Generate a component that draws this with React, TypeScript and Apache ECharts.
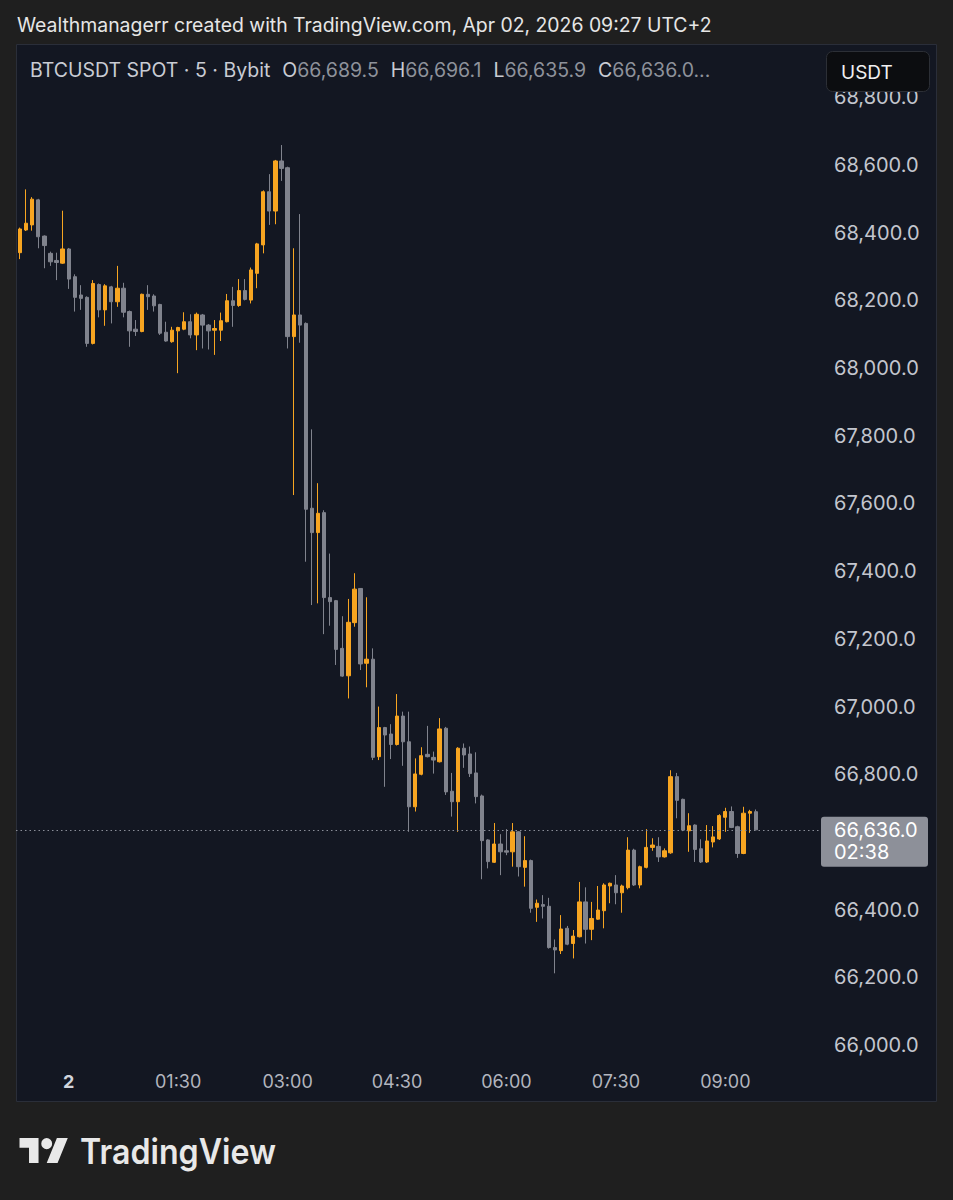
import React, { useEffect, useRef } from "react";
import * as echarts from "echarts";

// 5-minute slots, counted from 00:00 on Apr 02 (negative = Apr 01)
const slots = [
  -9, -8, -7, -6, -5, -4, -3, -2, -1, 0, 1, 2, 3, 4, 5, 6, 7, 8, 9, 10,
  11, 12, 13, 14, 15, 16, 17, 18, 19, 20, 21, 22, 23, 24, 25, 26, 27, 28, 29, 30,
  31, 32, 33, 34, 35, 36, 37, 38, 39, 40, 41, 42, 43, 44, 45, 46, 47, 48, 49, 50,
  51, 52, 53, 54, 55, 56, 57, 58, 59, 60, 61, 62, 63, 64, 65, 66, 67, 68, 69, 70,
  71, 72, 73, 74, 75, 76, 77, 78, 79, 80, 81, 82, 83, 84, 85, 86, 87, 88, 89, 90,
  91, 92, 93, 94, 95, 96, 97, 98, 99, 100, 101, 102, 103, 104, 105, 106, 107, 108, 109, 110,
  111, 112, 113,
];

const opens = [
  68350, 68341, 68408, 68423, 68497, 68390, 68339, 68318, 68310, 68352, 68270, 68216, 68209, 68073, 68247, 68172, 68240, 68196, 68236, 68167,
  68115, 68108, 68218, 68213, 68188, 68106, 68078, 68110, 68115, 68137, 68098, 68157, 68127, 68112, 68112, 68137, 68199, 68185, 68229, 68201,
  68280, 68364, 68521, 68464, 68612, 68592, 68093, 68157, 68132, 67586, 67514, 67573, 67322, 67313, 67172, 67091, 67248, 67349, 67128, 67140,
  66852, 66938, 66919, 66888, 66972, 66896, 66704, 66800, 66859, 66850, 66837, 66936, 66750, 66719, 66877, 66860, 66804, 66736, 66606, 66540,
  66594, 66574, 66571, 66630, 66525, 66545, 66407, 66415, 66410, 66288, 66279, 66345, 66300, 66320, 66423, 66342, 66372, 66397, 66470, 66473,
  66450, 66465, 66576, 66473, 66525, 66584, 66587, 66556, 66568, 66793, 66726, 66633, 66650, 66580, 66541, 66600, 66609, 66673, 66690, 66645,
  66566, 66685, 66689.5,
];

const highs = [
  68360, 68415, 68528, 68505, 68500, 68392, 68344, 68341, 68465, 68355, 68277, 68245, 68212, 68260, 68250, 68248, 68243, 68302, 68252, 68170,
  68142, 68220, 68245, 68218, 68190, 68137, 68122, 68122, 68165, 68159, 68164, 68160, 68130, 68142, 68164, 68219, 68240, 68263, 68263, 68297,
  68370, 68525, 68573, 68615, 68659, 68595, 68354, 68455, 68135, 67819, 67660, 67580, 67452, 67315, 67267, 67318, 67394, 67350, 67323, 67172,
  67000, 66940, 66948, 67037, 66985, 66985, 66847, 66880, 66943, 66867, 66966, 66940, 66804, 66880, 66891, 66882, 66865, 66740, 66608, 66656,
  66623, 66638, 66656, 66632, 66617, 66548, 66430, 66443, 66435, 66312, 66384, 66352, 66340, 66482, 66466, 66423, 66470, 66478, 66480, 66502,
  66474, 66614, 66580, 66530, 66638, 66611, 66614, 66581, 66812, 66804, 66728, 66685, 66652, 66608, 66650, 66647, 66682, 66701, 66705, 66648,
  66704, 66695, 66696.1,
];

const lows = [
  68270, 68322, 68405, 68406, 68354, 68295, 68302, 68260, 68308, 68234, 68167, 68172, 68063, 68070, 68150, 68125, 68132, 68181, 68150, 68063,
  68095, 68106, 68172, 68167, 68098, 68078, 68075, 67985, 68112, 68088, 68053, 68058, 68055, 68039, 68080, 68135, 68122, 68181, 68200, 68191,
  68236, 68339, 68423, 68425, 68553, 68058, 67625, 68075, 67428, 67300, 67305, 67214, 67239, 67123, 67088, 67024, 67236, 67108, 67057, 66842,
  66842, 66763, 66845, 66885, 66825, 66630, 66690, 66797, 66850, 66802, 66835, 66739, 66675, 66630, 66819, 66792, 66714, 66490, 66522, 66538,
  66502, 66561, 66527, 66498, 66468, 66391, 66364, 66374, 66285, 66212, 66269, 66295, 66256, 66318, 66300, 66310, 66370, 66345, 66419, 66416,
  66391, 66460, 66470, 66463, 66522, 66574, 66541, 66554, 66565, 66670, 66632, 66571, 66541, 66538, 66538, 66584, 66606, 66630, 66641, 66553,
  66564, 66627, 66635.9,
];

const closes = [
  68295, 68411, 68428, 68499, 68388, 68362, 68314, 68312, 68352, 68263, 68209, 68206, 68073, 68250, 68172, 68243, 68196, 68236, 68165, 68110,
  68108, 68218, 68211, 68184, 68103, 68080, 68112, 68120, 68137, 68098, 68159, 68127, 68110, 68117, 68140, 68199, 68185, 68229, 68203, 68290,
  68367, 68521, 68464, 68612, 68590, 68093, 68157, 68127, 67583, 67514, 67571, 67322, 67310, 67169, 67090, 67249, 67347, 67126, 67140, 66850,
  66938, 66916, 66888, 66972, 66896, 66704, 66801, 66855, 66852, 66842, 66934, 66748, 66719, 66877, 66857, 66802, 66734, 66604, 66542, 66594,
  66571, 66570, 66630, 66527, 66545, 66404, 66419, 66410, 66288, 66281, 66343, 66298, 66322, 66423, 66342, 66374, 66399, 66473, 66478, 66450,
  66470, 66576, 66473, 66527, 66584, 66591, 66556, 66574, 66793, 66723, 66635, 66648, 66578, 66541, 66603, 66615, 66678, 66690, 66643, 66566,
  66685, 66690, 66636.0,
];

const timeTicks = [0, 18, 36, 54, 72, 90, 108];
const timeTickLabels = ["2", "01:30", "03:00", "04:30", "06:00", "07:30", "09:00"];
// 66,600.0 sits under the last-price tag in the reference, so it is not listed
const priceTicks = [66000, 66200, 66400, 66800, 67000, 67200, 67400, 67600, 67800, 68000, 68200, 68400, 68600, 68800];

const headerText = "Wealthmanagerr created with TradingView.com, Apr 02, 2026 09:27 UTC+2";
const symbolText = "BTCUSDT SPOT · 5 · Bybit";
const currencyText = "USDT";
const countdownText = "02:38";
const brandText = "TradingView";

const UP = "#f7a521";
const DOWN = "#80838d";
const FONT = "Inter, 'Noto Sans', sans-serif";

const fmt = (v: number) =>
  v.toLocaleString("en-US", { minimumFractionDigits: 1, maximumFractionDigits: 1 });

const LOGO_D =
  "M14 22H7V11H0V4h14v18zM28 22h-8l7.5-18h8L28 22zM24 8a4 4 0 1 1 -8 0a4 4 0 1 1 8 0z";

export default function App() {
  const ref = useRef<HTMLDivElement>(null);

  useEffect(() => {
    if (!ref.current) return;
    echarts.graphic.registerShape("tvlogo", echarts.graphic.extendPath(LOGO_D, {}));
    const chart = echarts.init(ref.current, undefined, { renderer: "svg" });

    const data = slots.map((t, i) => [t, opens[i], closes[i], lows[i], highs[i]]);
    const last = slots.length - 1;
    const lastClose = closes[last];

    const GL = 16, GR = 820, GT = 44, GB = 1062;

    const baseGraphics: any[] = [
      {
        id: "panel", type: "rect", z: -10, silent: true,
        shape: { x: 16.5, y: 44.5, width: 920, height: 1057 },
        style: { fill: "#131722", stroke: "#2a2e39", lineWidth: 1 },
      },
      {
        id: "header", type: "text", x: 17, y: 25, silent: true,
        style: { text: headerText, fill: "#e6e6e6", font: `19.4px ${FONT}`, verticalAlign: "middle" },
      },
      {
        id: "legend", type: "text", x: 30, y: 70, silent: true,
        style: {
          text:
            `{a|${symbolText}}{k|O}{b|${fmt(opens[last])}}{k|H}{b|${fmt(highs[last])}}` +
            `{k|L}{b|${fmt(lows[last])}}{k|C}{b|${fmt(closes[last])}...}`,
          verticalAlign: "middle",
          rich: {
            a: { fill: "#c9ccd4", font: `19.5px ${FONT}` },
            k: { fill: "#c9ccd4", font: `19.5px ${FONT}`, padding: [0, 0, 0, 12] },
            b: { fill: "#8e929b", font: `19.5px ${FONT}` },
          },
        },
      },
      {
        id: "usdtBtn", type: "rect", z: 100, silent: true,
        shape: { x: 826.5, y: 51.5, width: 103, height: 40, r: 6 },
        style: { fill: "#0c0d10", stroke: "#2c2f36", lineWidth: 1 },
      },
      {
        id: "usdtTxt", type: "text", z: 101, x: 841, y: 72, silent: true,
        style: { text: currencyText, fill: "#f0f0f0", font: `19px ${FONT}`, verticalAlign: "middle" },
      },
      {
        id: "logo", type: "tvlogo", x: 19.5, y: 1132.6, scaleX: 1.36, scaleY: 1.38, silent: true,
        style: { fill: "#e8e8e8" },
      },
      {
        id: "brand", type: "text", x: 80, y: 1150.5, scaleX: 0.92, silent: true,
        style: { text: brandText, fill: "#e8e8e8", font: `600 35px ${FONT}`, verticalAlign: "middle" },
      },
    ];

    const option: any = {
      animation: false,
      backgroundColor: "#1f1f1f",
      grid: { left: GL, top: GT, width: GR - GL, height: GB - GT },
      xAxis: {
        type: "value",
        min: -8.67,
        max: 123.57,
        axisLine: { show: false },
        axisTick: { show: false },
        splitLine: { show: false },
        axisLabel: {
          customValues: timeTicks,
          margin: 10,
          color: "#b2b5be",
          fontFamily: FONT,
          fontSize: 18,
          formatter: (v: number) => {
            const i = timeTicks.indexOf(v);
            if (i < 0) return "";
            return i === 0 ? `{d|${timeTickLabels[i]}}` : timeTickLabels[i];
          },
          rich: { d: { fontWeight: "bold", color: "#d1d4dc", fontFamily: FONT, fontSize: 18 } },
        },
      },
      yAxis: {
        type: "value",
        position: "right",
        min: 65950,
        max: 68957.5,
        axisLine: { show: false },
        axisTick: { show: false },
        splitLine: { show: false },
        axisLabel: {
          customValues: priceTicks,
          margin: 14,
          color: "#c3c6ce",
          fontFamily: FONT,
          fontSize: 20,
          formatter: (v: number) => fmt(v),
        },
      },
      series: [
        {
          type: "candlestick",
          data,
          encode: { x: 0, y: [1, 2, 3, 4] },
          barWidth: 3.8,
          clip: true,
          silent: true,
          itemStyle: {
            color: UP,
            color0: DOWN,
            borderColor: UP,
            borderColor0: DOWN,
            borderWidth: 1,
          },
          markLine: {
            silent: true,
            symbol: ["none", "none"],
            label: { show: false },
            lineStyle: { color: "#8a8e98", width: 1, type: [1.5, 3] },
            data: [{ yAxis: lastClose }],
          },
        },
      ],
      graphic: baseGraphics,
    };

    chart.setOption(option);

    const tagY = chart.convertToPixel({ yAxisIndex: 0 }, lastClose) as number;
    chart.setOption({
      graphic: [
        ...baseGraphics,
        {
          id: "tagRect", type: "rect", z: 100, silent: true,
          shape: { x: 821, y: tagY - 13, width: 107, height: 50, r: 3 },
          style: { fill: "#8d9099" },
        },
        {
          id: "tagPrice", type: "text", z: 101, x: 834, y: tagY, silent: true,
          style: { text: fmt(lastClose), fill: "#ffffff", font: `20px ${FONT}`, verticalAlign: "middle" },
        },
        {
          id: "tagTime", type: "text", z: 101, x: 834, y: tagY + 22, silent: true,
          style: { text: countdownText, fill: "#ffffff", font: `20px ${FONT}`, verticalAlign: "middle" },
        },
      ],
    });

    return () => chart.dispose();
  }, []);

  return (
    <div
      ref={ref}
      style={{ position: "absolute", left: 0, top: 0, width: 953, height: 1200 }}
    />
  );
}
